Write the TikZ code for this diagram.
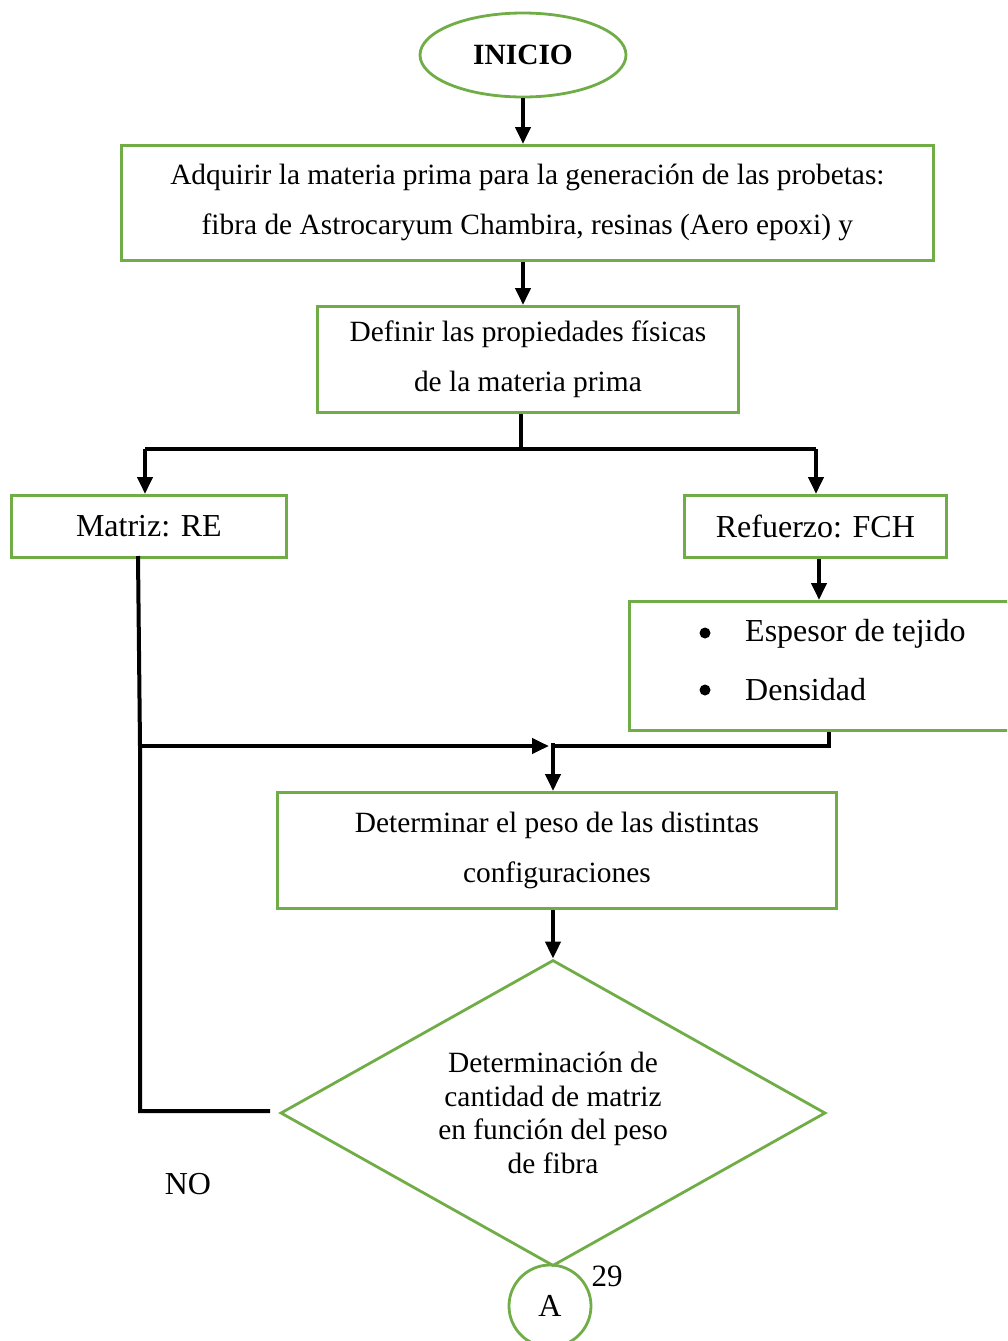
\documentclass[tikz,border=0pt]{standalone}
\usepackage{fontspec}
\setmainfont{Liberation Serif}
\usetikzlibrary{arrows.meta,shapes.geometric}
\definecolor{grn}{HTML}{70AD47}
\begin{document}
\begin{tikzpicture}[x=1pt,y=-1pt,
  box/.style={draw=grn, line width=2.8pt, rectangle, inner sep=0pt, align=center, anchor=north west, font=\fontsize{29.4}{50}\selectfont},
  bigtxt/.style={font=\fontsize{32}{38}\selectfont, inner sep=0pt},
  conn/.style={line width=4pt, draw=black},
  arr/.style={conn, -{Triangle[length=17pt,width=15pt]}},
  dot/.style={circle, fill=black, inner sep=0pt, minimum size=11pt}]
\useasboundingbox (0,0) rectangle (1007,1341);
\clip (0,0) rectangle (1007,1341);

% nodes
\node[draw=grn, line width=2.8pt, ellipse, minimum width=206pt, minimum height=84pt, inner sep=0pt,
      font=\fontsize{29.4}{34}\selectfont\bfseries] (ini) at (523,55) {INICIO};
\node[box, minimum width=812pt, minimum height=115pt] (b1) at (120,144)
  {Adquirir la materia prima para la generación de las probetas:\\fibra de Astrocaryum Chambira, resinas (Aero epoxi) y};
\node[box, minimum width=421pt, minimum height=106pt] (b2) at (316,305)
  {Definir las propiedades físicas\\de la materia prima};
\node[box, minimum width=275pt, minimum height=62pt, font=\fontsize{32}{38}\selectfont] (mat) at (10,494) {Matriz: RE};
\node[box, minimum width=262pt, minimum height=62pt, font=\fontsize{32}{38}\selectfont] (ref) at (683,494) {Refuerzo: FCH};
\node[box, minimum width=400pt, minimum height=129pt] (bul) at (628,600) {};
\node[dot] (d1) at (705,633) {};
\node[dot] (d2) at (705,690) {};
\node[bigtxt, anchor=west] (t1) at (745,634) {Espesor de tejido};
\node[bigtxt, anchor=west] (t2) at (745,690) {Densidad};
\node[box, minimum width=559pt, minimum height=116pt] (det) at (276,791)
  {Determinar el peso de las distintas\\configuraciones};
\node[draw=grn, line width=2.8pt, diamond, shape aspect=1.78, minimum width=545pt, minimum height=306pt,
      inner sep=0pt, align=center, font=\fontsize{29.4}{33.5}\selectfont] (dia) at (553,1113)
  {Determinación de\\cantidad de matriz\\en función del peso\\de fibra};
\node[draw=grn, line width=2.8pt, circle, minimum size=82pt, inner sep=0pt,
      font=\fontsize{32}{36}\selectfont] (A) at (550,1306) {A};
\node[font=\fontsize{31}{36}\selectfont, inner sep=0pt] (n29) at (607,1276) {29};
\node[bigtxt] (no) at (188,1184) {NO};

% junction coordinates
\coordinate (split) at (521,449);
\coordinate (jl) at (145,449);
\coordinate (jr) at (816,449);
\coordinate (mtop) at (138,556);
\coordinate (ml) at (140,746);
\coordinate (mj) at (549,746);
\coordinate (bj) at (829,746);
\coordinate (dj) at (553,743);
\coordinate (nocorner) at (140,1111);
\coordinate (noend) at (270,1111);

% connectors
\draw[arr] (ini.south) -- (ini.south |- b1.north);
\draw[arr] (b1.south -| ini.south) -- (b2.north -| ini.south);
\draw[conn] (b2.south -| split) -- (split);
\draw[conn] (jl) -- (jr);
\draw[arr] (jl) -- (jl |- mat.north);
\draw[arr] (jr) -- (jr |- ref.north);
\draw[arr] (ref.south -| 819,0) -- (bul.north -| 819,0);
\draw[conn] (mtop) -- (ml) -- (nocorner) -- (noend);
\draw[arr] (ml) -- (mj);
\draw[conn] (bul.south -| bj) -- (bj) -- (dj |- bj);
\draw[arr] (dj) -- (det.north -| dj);
\draw[arr] (det.south -| dia.north) -- (dia.north);
\end{tikzpicture}
\end{document}
